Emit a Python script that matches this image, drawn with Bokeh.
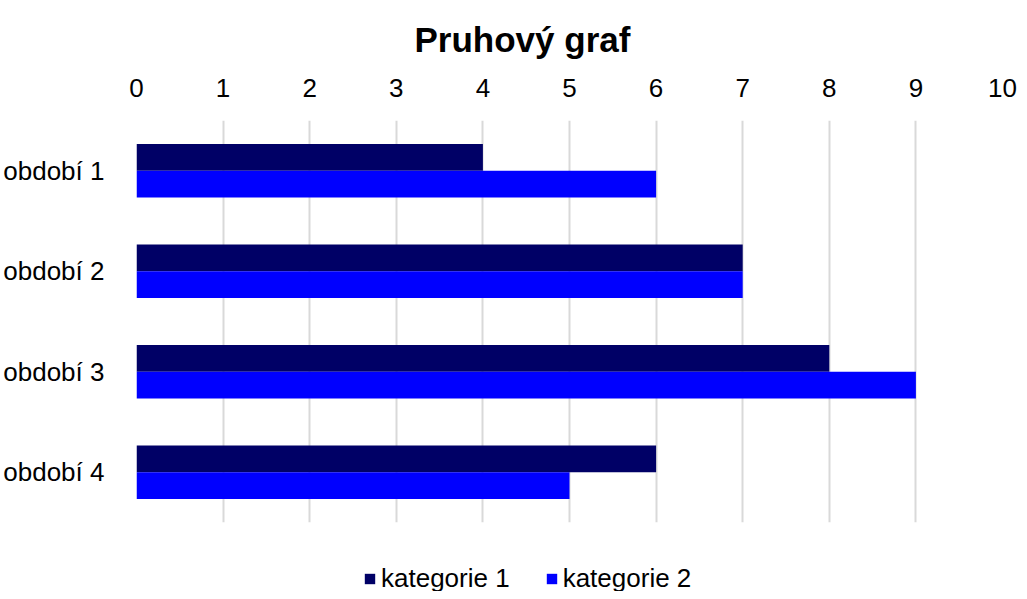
from bokeh.plotting import figure
from bokeh.layouts import column
from bokeh.models import Legend, LegendItem, Range1d, FactorRange, FixedTicker, ColumnDataSource
from bokeh.transform import dodge
from bokeh.embed import file_html
from bokeh.resources import INLINE

periods = ["období 1", "období 2", "období 3", "období 4"]
kategorie_1 = [4, 7, 8, 6]
kategorie_2 = [6, 7, 9, 5]
series_names = ["kategorie 1", "kategorie 2"]
colors = ["#000066", "#0000FF"]
x_ticks = list(range(0, 11))

src = ColumnDataSource(dict(period=periods, k1=kategorie_1, k2=kategorie_2))

FONT = "Liberation Sans"

p = figure(width=1019, height=530, output_backend="svg", toolbar_location=None,
           x_range=Range1d(0, 10), y_range=FactorRange(*reversed(periods)),
           x_axis_location="above", title="Pruhový graf",
           min_border_left=130, min_border_right=17, min_border_top=114, min_border_bottom=8)
p.outline_line_color = None

bh = 0.265
r1 = p.hbar(y=dodge("period", bh / 2, range=p.y_range), right="k1", left=0, height=bh,
            source=src, fill_color=colors[0], line_color=None)
r2 = p.hbar(y=dodge("period", -bh / 2, range=p.y_range), right="k2", left=0, height=bh,
            source=src, fill_color=colors[1], line_color=None)

p.title.align = "left"
p.title.offset = 278
p.title.text_font = FONT
p.title.text_font_size = "35px"
p.title.text_font_style = "bold"
p.title.text_color = "black"
p.title.standoff = 34

xa = p.xaxis[0]
xa.ticker = FixedTicker(ticks=x_ticks)
xa.axis_line_color = None
xa.major_tick_line_color = None
xa.minor_tick_line_color = None
xa.major_label_text_font = FONT
xa.major_label_text_font_size = "26px"
xa.major_label_text_color = "black"
xa.major_label_standoff = 18

ya = p.yaxis[0]
ya.axis_line_color = None
ya.major_tick_line_color = None
ya.major_label_text_font = FONT
ya.major_label_text_font_size = "26px"
ya.major_label_text_color = "black"
ya.major_label_standoff = 26

p.xgrid.grid_line_color = "#d9d9d9"
p.xgrid.grid_line_width = 2
p.ygrid.grid_line_color = None

# legend strip below the chart (its renderers hold a point outside the view)
pl = figure(width=1019, height=61, output_backend="svg", toolbar_location=None,
            x_range=Range1d(0, 1), y_range=Range1d(0, 1),
            x_axis_type=None, y_axis_type=None, min_border=0)
pl.outline_line_color = None
pl.xgrid.visible = False
pl.ygrid.visible = False
hidden = ColumnDataSource(dict(y=[-10], right=[-10]))
lr1 = pl.hbar(y="y", right="right", left=-11, height=0.5, source=hidden,
              fill_color=colors[0], line_color=None)
lr2 = pl.hbar(y="y", right="right", left=-11, height=0.5, source=hidden,
              fill_color=colors[1], line_color=None)

legend = Legend(items=[LegendItem(label=series_names[0], renderers=[lr1]),
                       LegendItem(label=series_names[1], renderers=[lr2])],
                orientation="horizontal", location=(227, -3),
                label_text_font=FONT, label_text_font_size="26px", label_text_color="black",
                glyph_width=13, glyph_height=13, label_standoff=5, spacing=35,
                border_line_color=None, background_fill_alpha=0, margin=0, padding=0)
pl.add_layout(legend)

layout = column(p, pl, spacing=0)

open("out.html", "w").write(file_html(layout, INLINE))
